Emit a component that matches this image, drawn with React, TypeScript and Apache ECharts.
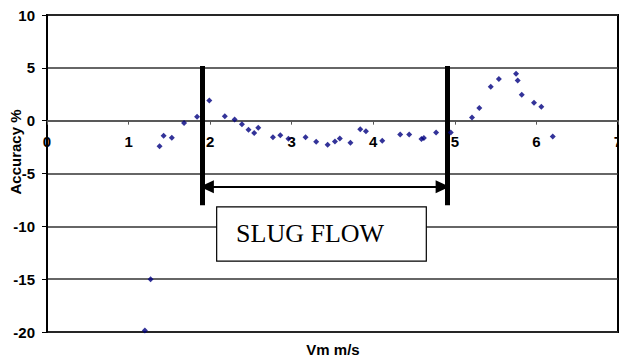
import React, { useEffect, useRef } from "react";
import * as echarts from "echarts";

// Velocity of mixture (m/s)
const vm = [
  1.2, 1.27, 1.38, 1.43, 1.53, 1.68, 1.84, 1.99, 2.18, 2.3, 2.39, 2.47, 2.54, 2.59,
  2.77, 2.86, 2.96, 3.17, 3.3, 3.44, 3.53, 3.59, 3.72, 3.84, 3.91, 4.11, 4.33, 4.44,
  4.59, 4.62, 4.77, 4.95, 5.21, 5.3, 5.44, 5.54, 5.75, 5.77, 5.82, 5.97, 6.06, 6.2,
];
// Accuracy (%)
const accuracy = [
  -19.86, -15.0, -2.41, -1.43, -1.62, -0.23, 0.37, 1.92, 0.41, 0.12, -0.35, -0.86, -1.17, -0.67,
  -1.58, -1.39, -1.71, -1.58, -2.0, -2.28, -1.96, -1.68, -2.09, -0.82, -1.01, -1.9, -1.3, -1.3,
  -1.74, -1.65, -1.11, -1.11, 0.31, 1.19, 3.21, 3.94, 4.44, 3.81, 2.45, 1.7, 1.32, -1.49,
];

// Slug flow region boundaries (Vm) and annotation levels (Accuracy)
const regionBounds = [1.9, 4.91];
const boundYRange = [5.17, -8.0];
const arrowX = [1.96, 4.85];
const arrowY = -6.26;
const boxX = [2.08, 4.65];
const boxY = [-8.15, -13.3];
const regionLabel = "SLUG FLOW";

const xTicks = { min: 0, max: 7, interval: 1 };
const yTicks = { min: -20, max: 10, interval: 5 };

const SANS = "Arial, 'Liberation Sans', sans-serif";

const GRID = { left: 47, right: 1, top: 15, bottom: 24 };
const HEIGHT = 356;

export default function App() {
  const ref = useRef<HTMLDivElement>(null);

  useEffect(() => {
    if (!ref.current) return;
    const chart = echarts.init(ref.current, null, { renderer: "svg" });
    const points = vm.map((v, i) => [v, accuracy[i]]);

    // x axis crosses the y axis at 0: shift it up from the bottom edge of the grid
    const gridH = HEIGHT - GRID.top - GRID.bottom;
    const zeroOffset = -((0 - yTicks.min) / (yTicks.max - yTicks.min)) * gridH;

    chart.setOption({
      animation: false,
      backgroundColor: "#ffffff",
      grid: {
        ...GRID,
        outerBoundsMode: "none",
        containLabel: false,
        show: true,
        borderColor: "#000",
        borderWidth: 2,
        backgroundColor: "transparent",
      },
      xAxis: {
        type: "value",
        min: xTicks.min,
        max: xTicks.max,
        interval: xTicks.interval,
        offset: zeroOffset,
        axisLine: { show: true, onZero: false, lineStyle: { color: "#555", width: 1.5 } },
        axisTick: { show: true, length: 4, lineStyle: { color: "#555", width: 1 } },
        axisLabel: {
          color: "#000",
          fontSize: 15,
          fontWeight: 700,
          fontFamily: SANS,
          margin: 13,
          hideOverlap: false,
        },
        splitLine: { show: false },
      },
      yAxis: {
        type: "value",
        min: yTicks.min,
        max: yTicks.max,
        interval: yTicks.interval,
        axisLine: { show: true, onZero: false, lineStyle: { color: "#000", width: 2 } },
        axisTick: { show: true, length: 5, lineStyle: { color: "#000", width: 1 } },
        axisLabel: {
          color: "#000",
          fontSize: 15,
          fontWeight: 700,
          fontFamily: SANS,
          margin: 12,
        },
        splitLine: { show: true, lineStyle: { color: "#333", width: 1.5 } },
      },
      graphic: [
        {
          type: "text",
          x: 15,
          y: 152,
          rotation: Math.PI / 2,
          style: {
            text: "Accuracy %",
            fontSize: 15,
            fontWeight: 700,
            fontFamily: SANS,
            fill: "#000",
            align: "center",
            verticalAlign: "middle",
          },
        },
        {
          type: "text",
          x: 333,
          y: 349,
          style: {
            text: "Vm m/s",
            fontSize: 15,
            fontWeight: 700,
            fontFamily: SANS,
            fill: "#000",
            align: "center",
            verticalAlign: "middle",
          },
        },
      ],
      series: [
        {
          type: "scatter",
          name: "annotations",
          data: [],
          silent: true,
          z: 3,
          markArea: {
            silent: true,
            itemStyle: { color: "#ffffff", borderColor: "#000", borderWidth: 1.2, opacity: 1 },
            label: {
              show: true,
              position: "insideLeft",
              distance: 20,
              color: "#000",
              fontSize: 26,
              fontFamily: "'Liberation Serif', 'Times New Roman', serif",
              fontWeight: "normal",
            },
            emphasis: { disabled: true },
            data: [
              [
                { name: regionLabel, coord: [boxX[0], boxY[0]] },
                { coord: [boxX[1], boxY[1]] },
              ],
            ],
          },
          markLine: {
            silent: true,
            animation: false,
            label: { show: false },
            emphasis: { disabled: true },
            data: [
              [
                { coord: [regionBounds[0], boundYRange[0]], symbol: "none", lineStyle: { color: "#000", width: 5, type: "solid" } },
                { coord: [regionBounds[0], boundYRange[1]], symbol: "none" },
              ],
              [
                { coord: [regionBounds[1], boundYRange[0]], symbol: "none", lineStyle: { color: "#000", width: 5, type: "solid" } },
                { coord: [regionBounds[1], boundYRange[1]], symbol: "none" },
              ],
              [
                { coord: [arrowX[0], arrowY], symbol: "triangle", symbolSize: [13, 14], lineStyle: { color: "#000", width: 2, type: "solid" } },
                { coord: [arrowX[1], arrowY], symbol: "triangle", symbolSize: [13, 14] },
              ],
            ],
          },
        },
        {
          type: "scatter",
          name: "Accuracy",
          data: points,
          symbol: "diamond",
          symbolSize: 6,
          z: 5,
          itemStyle: { color: "#000080" },
        },
      ],
    });

    return () => chart.dispose();
  }, []);

  return (
    <div
      ref={ref}
      style={{ position: "fixed", left: 0, top: 0, width: 619, height: HEIGHT, background: "#fff" }}
    />
  );
}
